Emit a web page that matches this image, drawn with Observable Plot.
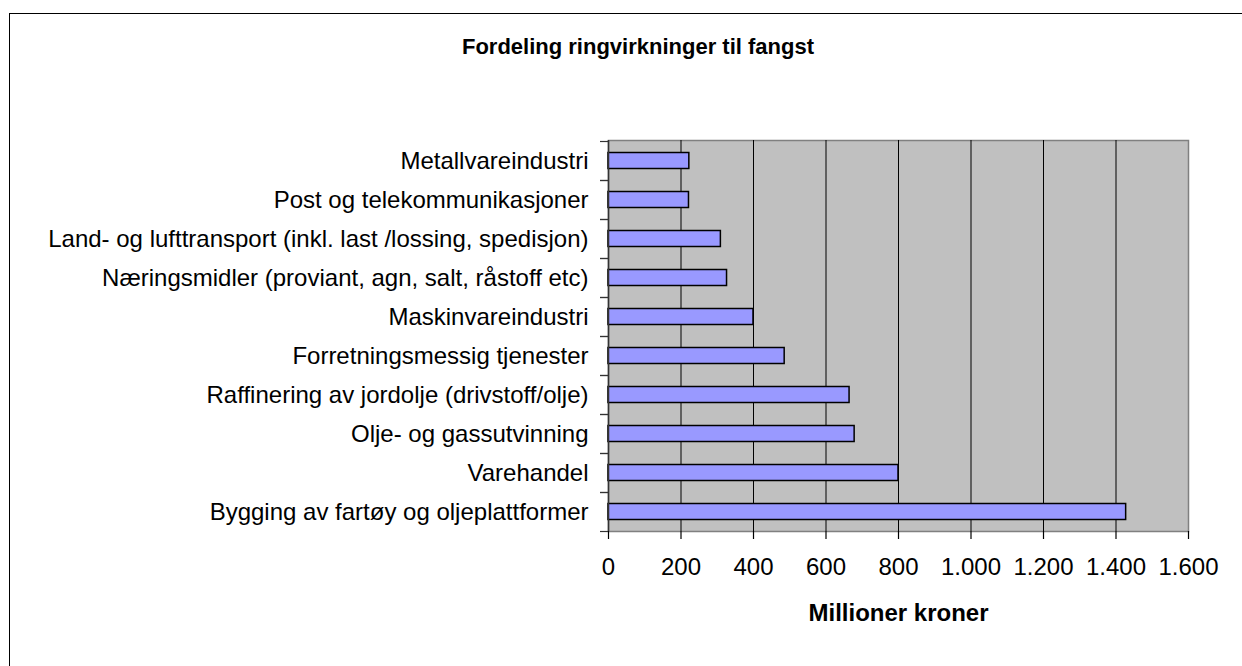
<!DOCTYPE html>
<html>
<head>
<meta charset="utf-8">
<script src="https://cdn.jsdelivr.net/npm/d3@7"></script>
<script src="https://cdn.jsdelivr.net/npm/@observablehq/plot@0.6"></script>
<style>
  html, body { margin: 0; padding: 0; background: #fff; }
  #wrap { position: relative; width: 1242px; height: 666px; overflow: hidden; font-family: Arial, "Liberation Sans", sans-serif; }
  #frame { position: absolute; left: 9px; top: 13px; width: 1300px; height: 700px; border-left: 1.5px solid #000; border-top: 1.5px solid #000; }
  #title { position: absolute; left: 0; width: 1276px; top: 34px; text-align: center; font-weight: bold; font-size: 22px; color: #000; }
  #chart { position: absolute; left: 0; top: 0; }
</style>
</head>
<body>
<div id="wrap">
  <div id="frame"></div>
  <div id="title">Fordeling ringvirkninger til fangst</div>
  <div id="chart"></div>
</div>
<script>
const categories = [
  "Metallvareindustri",
  "Post og telekommunikasjoner",
  "Land- og lufttransport (inkl. last /lossing, spedisjon)",
  "Næringsmidler (proviant, agn, salt, råstoff etc)",
  "Maskinvareindustri",
  "Forretningsmessig tjenester",
  "Raffinering av jordolje (drivstoff/olje)",
  "Olje- og gassutvinning",
  "Varehandel",
  "Bygging av fartøy og oljeplattformer"
];
const values = [223, 222, 310, 327, 400, 486, 665, 679, 800, 1428];
const xTicks = [0, 200, 400, 600, 800, 1000, 1200, 1400, 1600];
const gridTicks = [200, 400, 600, 800, 1000, 1200, 1400];
const xLabel = "Millioner kroner";

const data = categories.map((c, i) => ({category: c, value: values[i]}));
const nf = d3.formatLocale({thousands: ".", decimal: ",", grouping: [3], currency: ["", ""]}).format(",");

const chart = Plot.plot({
  width: 1242,
  height: 666,
  marginLeft: 608,
  marginRight: 54,
  marginTop: 140,
  marginBottom: 135,
  style: {fontFamily: 'Arial, "Liberation Sans", sans-serif', fontSize: "24px", color: "#000", background: "transparent"},
  x: {domain: [0, 1600]},
  y: {domain: categories, paddingInner: 0, paddingOuter: 0},
  marks: [
    Plot.frame({fill: "#c0c0c0", stroke: "#808080", strokeWidth: 1.5}),
    Plot.gridX(gridTicks, {stroke: "#000", strokeOpacity: 1, strokeWidth: 1}),
    Plot.barX(data, {y: "category", x: "value", insetTop: 11.5, insetBottom: 11.5, fill: "#9999ff", stroke: "#000", strokeWidth: 1.5}),
    Plot.ruleX([0], {stroke: "#333", strokeWidth: 1.5}),
    Plot.ruleY([0], {frameAnchor: "bottom", stroke: "#000", strokeWidth: 1.5}),
    Plot.axisX(xTicks, {tickSize: 8, tickPadding: 18, tickFormat: nf, fontSize: 24, label: null, stroke: "#000", strokeWidth: 1.2}),
    Plot.axisY({tickSize: 0, tickPadding: 20, fontSize: 24, label: null}),
    Plot.axisY({tickSize: 8, tickFormat: () => "", dy: -19.5, label: null, stroke: "#333", strokeWidth: 1.2}),
    Plot.axisY({tickSize: 8, tickFormat: () => "", dy: 19.5, label: null, stroke: "#333", strokeWidth: 1.2}),
    Plot.text([xLabel], {frameAnchor: "bottom", dy: 82, fontWeight: "bold", fontSize: 24, lineAnchor: "middle", fill: "#000"})
  ]
});
document.getElementById("chart").appendChild(chart);
</script>
</body>
</html>
